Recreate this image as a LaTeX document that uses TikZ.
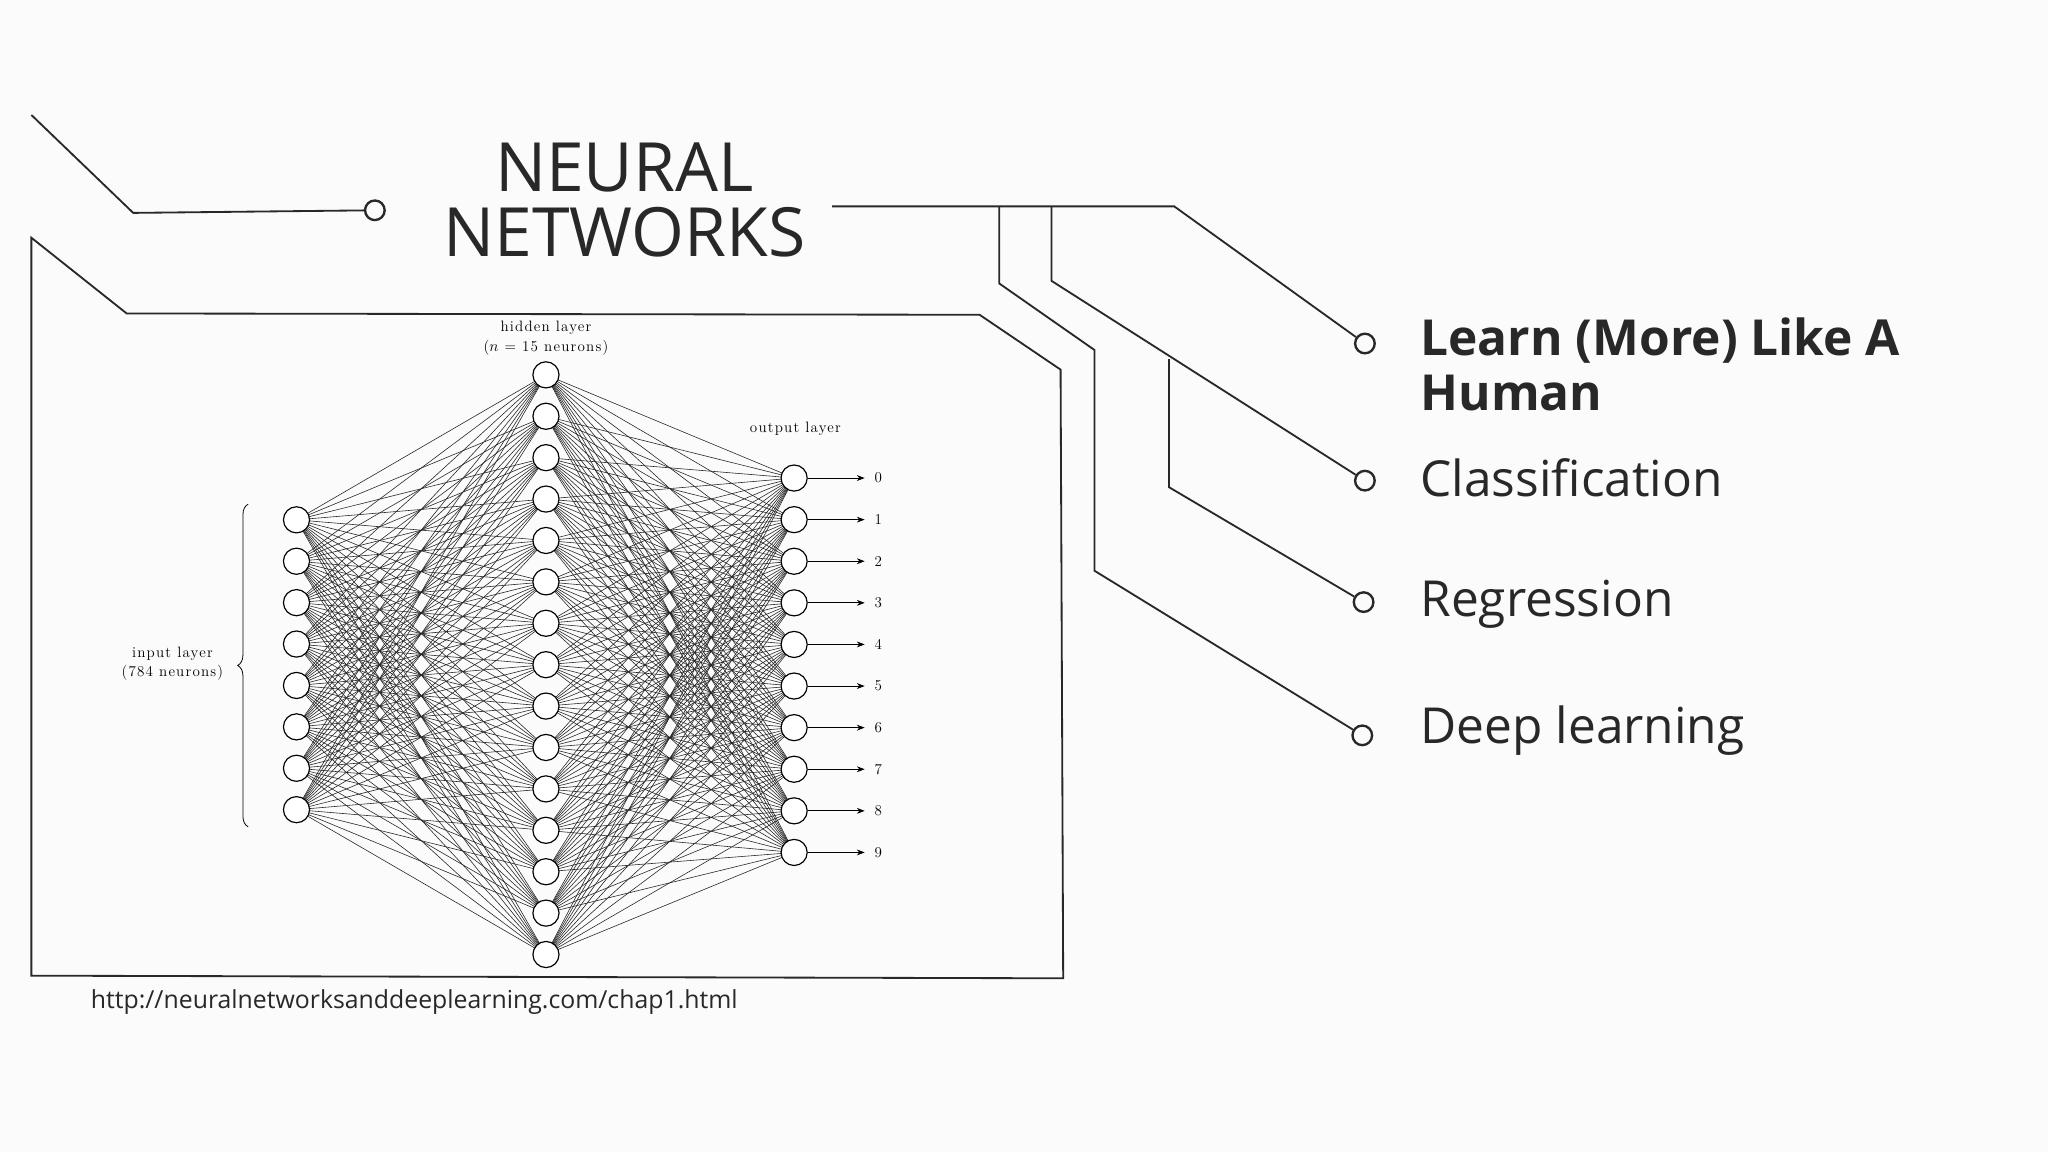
\documentclass[tikz,border=0pt]{standalone}
\usepackage{fontspec}
\setmainfont{Open Sans}
\newfontfamily\serifnn[LetterSpace=8]{Latin Modern Roman}
\usetikzlibrary{decorations.pathreplacing,arrows.meta}
\definecolor{bg}{RGB}{252,251,252}
\definecolor{ink}{RGB}{40,40,40}
\begin{document}
\begin{tikzpicture}[x=1pt,y=-1pt,
  neuron/.style={circle,draw=black,fill=white,minimum size=20pt,inner sep=0pt,line width=0.9pt},
  edge/.style={draw=black!85,line width=0.45pt},
  conn/.style={draw=ink,line width=1.4pt},
  pin/.style={circle,draw=ink,fill=bg,line width=1.8pt,minimum size=15pt,inner sep=0pt},
  item/.style={anchor=west,text=ink,font=\fontsize{38}{46}\selectfont},
  small/.style={font=\serifnn\fontsize{11.5}{15}\selectfont}]
\fill[bg] (0,0) rectangle (1568,882);
\useasboundingbox (0,0) rectangle (1568,882);
% title
\node[align=center,text=ink,font=\fontsize{52}{50}\selectfont] (title) at (478,153) {NEURAL\\NETWORKS};
\node[pin] (p0) at (287,161) {};
\coordinate (a0) at (24,88);
\coordinate (a1) at (102,163);
\draw[conn] (a0) -- (a1) -- (p0);
% box
\draw[conn] (24,182) -- (97,240) -- (750,241) -- (812,283) -- (814,749) -- (24,747) -- cycle;
% right connectors
\node[pin] (p1) at (1045,263) {};
\node[pin] (p2) at (1045,368) {};
\node[pin] (p3) at (1044,461) {};
\node[pin] (p4) at (1043,563) {};
\coordinate (t0) at (637,158);
\coordinate (t1) at (899,158);
\draw[conn] (t0) -- (t1) -- (p1);
\draw[conn] (765,158) -- (765,217) -- (838,268) -- (838,437) -- (p4);
\draw[conn] (805,158) -- (805,215) -- (p2);
\draw[conn] (895,275) -- (895,373) -- (p3);
\node[item,font=\bfseries\fontsize{38}{42}\selectfont,align=left] (l1) at (1084,279) {Learn (More) Like A\\Human};
\node[item] (l2) at (1084,366) {Classification};
\node[item] (l3) at (1084,463) {Regression};
\node[item] (l4) at (1084,559) {Deep learning};
\node[anchor=west,text=ink,font=\fontsize{19}{22}\selectfont] (url) at (66,767) {http://neuralnetworksanddeeplearning.com/chap1.html};
% network
\foreach \i in {0,...,7} \coordinate (ci\i) at (227,{398+\i*31.7});
\foreach \h in {0,...,14} \coordinate (ch\h) at (418,{287+\h*31.7});
\foreach \o in {0,...,9} \coordinate (co\o) at (608,{366+\o*31.85});
\foreach \i in {0,...,7} \foreach \h in {0,...,14} \draw[edge] (ci\i) -- (ch\h);
\foreach \h in {0,...,14} \foreach \o in {0,...,9} \draw[edge] (ch\h) -- (co\o);
\foreach \i in {0,...,7} \node[neuron] (i\i) at (ci\i) {};
\foreach \h in {0,...,14} \node[neuron] (h\h) at (ch\h) {};
\foreach \o in {0,...,9} {
  \node[neuron] (o\o) at (co\o) {};
  \coordinate (e\o) at (662,{366+\o*31.85});
  \draw[-{Stealth[length=6pt]},line width=0.6pt] (o\o) -- (e\o);
  \node[small,anchor=west] (d\o) at (666,{366+\o*31.85}) {\o};
}
\node[small,align=center] (hl) at (418,259) {hidden layer\\($n$ = 15 neurons)};
\node[small] (ol) at (609,328) {output layer};
\node[small,align=center] (il) at (132,508) {input layer\\(784 neurons)};
\draw[decorate,decoration={brace,amplitude=8pt},line width=0.6pt] (190,633) -- (190,386);
\end{tikzpicture}
\end{document}
